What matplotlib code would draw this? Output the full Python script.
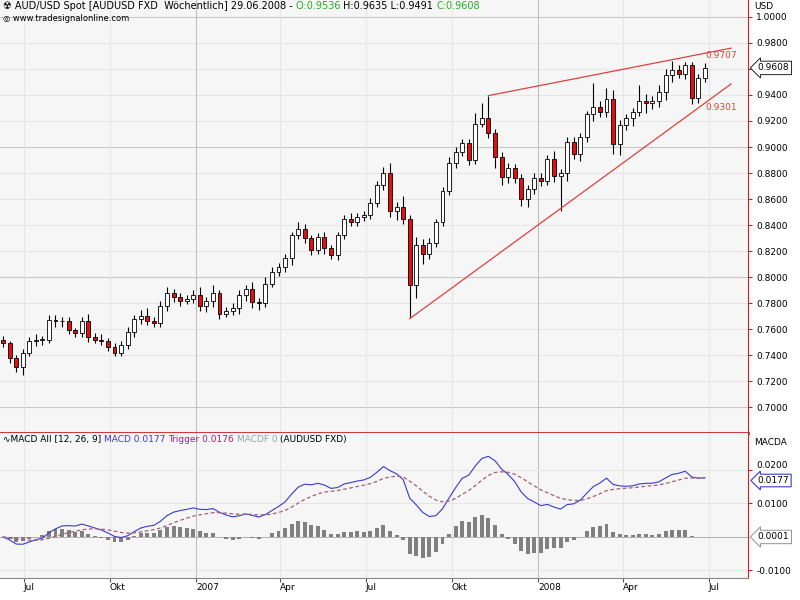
import matplotlib
matplotlib.use("Agg")
import matplotlib.pyplot as plt
import matplotlib.dates as mdates
import numpy as np
import datetime as dt

start_date = dt.date(2006, 6, 9)
closes = [0.749,0.738,0.731,0.742,0.751,0.752,0.752,0.767,0.766,0.766,
          0.759,0.757,0.766,0.754,0.752,0.751,0.746,0.742,0.748,0.758,
          0.768,0.770,0.766,0.765,0.778,0.788,0.785,0.782,0.783,0.786,
          0.778,0.782,0.788,0.772,0.774,0.776,0.786,0.791,0.781,0.780,
          0.795,0.804,0.808,0.815,0.832,0.837,0.830,0.821,0.831,0.822,
          0.817,0.832,0.845,0.842,0.846,0.848,0.857,0.871,0.880,0.851,
          0.854,0.845,0.794,0.825,0.818,0.826,0.842,0.866,0.888,0.896,
          0.903,0.890,0.918,0.922,0.911,0.892,0.877,0.884,0.876,0.860,
          0.868,0.876,0.874,0.891,0.878,0.880,0.904,0.895,0.908,0.925,
          0.931,0.927,0.937,0.902,0.917,0.922,0.927,0.935,0.934,0.935,
          0.942,0.955,0.959,0.956,0.963,0.938,0.953,0.9608]
first_open = 0.752
# wick lengths in 1/1000
up_wick = [3,2,2,3,3,4,3,4,4,3, 3,2,3,6,3,4,2,3,3,4, 3,5,6,3,4,4,3,3,3,4,
           6,3,6,2,3,4,4,3,5,3, 5,4,3,3,3,5,4,2,3,4, 3,3,3,4,3,3,4,3,5,8,
           4,8,3,6,4,4,3,3,4,4, 3,3,8,12,17,3,4,4,3,3, 3,4,4,3,6,3,4,4,3,3,
           18,4,8,7,4,3,3,13,6,4, 6,5,7,4,2,2,3,4]
dn_wick = [3,4,4,6,3,4,4,3,4,4, 3,3,3,4,3,3,3,3,3,3, 4,4,3,3,3,4,4,4,3,3,
           4,5,5,4,3,3,4,4,5,5, 3,3,3,4,6,3,4,4,3,4, 3,4,3,3,3,3,3,3,4,5,
           7,4,25,10,8,4,3,3,3,4, 3,4,3,3,4,8,6,5,4,5, 6,4,4,3,5,27,6,4,6,4,
           5,4,4,7,8,4,6,3,8,5, 4,6,5,3,4,5,4,3]

series_blue = "#3a3ad0"
trig_col = "#a0607a"

n = len(closes)
opens = [first_open] + closes[:-1]
highs = [max(o, c) + u / 1000 for o, c, u in zip(opens, closes, up_wick)]
lows = [min(o, c) - d / 1000 for o, c, d in zip(opens, closes, dn_wick)]
dates = [start_date + dt.timedelta(days=7 * i) for i in range(n)]
x = mdates.date2num(dates)

# MACD (12, 26, 9)
def ema(v, span):
    a = 2 / (span + 1)
    out = [v[0]]
    for val in v[1:]:
        out.append(out[-1] + a * (val - out[-1]))
    return np.array(out)
c = np.array(closes)
macd = ema(c, 12) - ema(c, 26)
trig = ema(macd, 9)
hist = macd - trig

fig = plt.figure(figsize=(8, 6), dpi=100)
fig.patch.set_facecolor("white")
ax = fig.add_axes([0, 0.278, 0.935, 0.722])
ax2 = fig.add_axes([0, 0.037, 0.935, 0.241], sharex=ax)
bg = "#f6f6f6"
for a in (ax, ax2):
    a.set_facecolor(bg)
    for s in ("top", "left"):
        a.spines[s].set_visible(False)
    a.spines["right"].set_color("#d02020")
    a.yaxis.tick_right()
    a.tick_params(axis="y", colors="#d02020", labelcolor="black", labelsize=6.5, length=3, pad=3)
ax.spines["bottom"].set_color("#d02020")
ax.spines["bottom"].set_linewidth(2)
ax2.spines["bottom"].set_color("#888888")

xl = (x[0] - 3.2, x[0] + 795)
ax.set_xlim(*xl)
ax.set_ylim(0.68, 1.013)
ax2.set_ylim(-0.0122, 0.031)

# grid
yt = np.round(np.arange(0.70, 1.001, 0.02), 2)
ax.set_yticks(yt)
ax.set_yticklabels(["" if abs(v - 0.96) < 1e-6 else f"{v:.4f}" for v in yt])
for v in yt:
    dark = abs(v - 0.8) < 1e-6 or abs(v - 0.9) < 1e-6 or abs(v - 0.7) < 1e-6 or abs(v - 1.0) < 1e-6
    ax.axhline(v, color="#c8c8c8" if dark else "#e6e6e6", lw=0.8, zorder=0)
month_ticks = [dt.date(2006, 7, 1), dt.date(2006, 10, 1), dt.date(2007, 1, 1), dt.date(2007, 4, 1),
               dt.date(2007, 7, 1), dt.date(2007, 10, 1), dt.date(2008, 1, 1), dt.date(2008, 4, 1),
               dt.date(2008, 7, 1)]
month_labels = ["Jul", "Okt", "2007", "Apr", "Jul", "Okt", "2008", "Apr", "Jul"]
for d in month_ticks:
    xv = mdates.date2num(d)
    col = "#c0c0c0" if d.month == 1 else "#e6e6e6"
    ax.axvline(xv, color=col, lw=0.8, zorder=0)
    ax2.axvline(xv, color=col, lw=0.8, zorder=0)

# candles
w = 4.2
for xi, o, h, l, cl in zip(x, opens, highs, lows, closes):
    ax.vlines(xi, l, h, color="black", lw=0.8, zorder=2)
    fc = "white" if cl >= o else "#e01010"
    body = max(abs(cl - o), 0.0006)
    ax.add_patch(plt.Rectangle((xi - w / 2, min(o, cl)), w, body, facecolor=fc,
                               edgecolor="black", lw=0.6, zorder=3))

# triangle lines
tri_up_x = [dates[73] + dt.timedelta(days=7), dt.date(2008, 7, 25)]
tri_up_y = [0.9395, 0.976]
tri_lo_x = [dates[62], dt.date(2008, 7, 25)]
tri_lo_y = [0.768, 0.9485]
ax.plot(mdates.date2num(tri_up_x), tri_up_y, color="#e04040", lw=0.9, zorder=4)
ax.plot(mdates.date2num(tri_lo_x), tri_lo_y, color="#e04040", lw=0.9, zorder=4)
ax.text(mdates.date2num(dt.date(2008, 6, 27)), 0.9700, "0.9707", color="#e04040", fontsize=6.5, va="center")
ax.text(mdates.date2num(dt.date(2008, 6, 27)), 0.9301, "0.9301", color="#e04040", fontsize=6.5, va="center")

# price box
ax.annotate(f"{closes[-1]:.4f}", xy=(1.0, closes[-1]), xycoords=("axes fraction", "data"),
            xytext=(7, 0), textcoords="offset points", fontsize=6.5, va="center", annotation_clip=False,
            bbox=dict(boxstyle="larrow,pad=0.25", fc="white", ec="black", lw=0.6))
ax.text(1.008, 0.995, "USD", transform=ax.transAxes, fontsize=6.5, va="top")

# header
def colored_line(axis, x0, y0, parts, size=7):
    t = axis.text(x0, y0, parts[0][0], color=parts[0][1], transform=axis.transAxes, fontsize=size, va="top")
    for s, col in parts[1:]:
        t = axis.annotate(s, xy=(1, 0), xycoords=t, va="bottom", color=col, fontsize=size)
    return t
colored_line(ax, 0.004, 0.998, [("\u2622 AUD/USD Spot [AUDUSD FXD  Wöchentlich] 29.06.2008 - ", "black"),
                                ("O:0.9536 ", "#20b020"), ("H:0.9635 L:0.9491 ", "black"),
                                ("C:0.9608", "#20b020")])
ax.text(0.004, 0.968, "\u25ce www.tradesignalonline.com", transform=ax.transAxes, fontsize=6, va="top")
plt.setp(ax.get_xticklabels(), visible=False)
ax.tick_params(axis="x", length=0)

# MACD panel
ax2.bar(x, hist, width=4.2, color="#808080", zorder=2)
ax2.plot(x, macd, color=series_blue, lw=0.8, zorder=3)
ax2.plot(x, trig, color=trig_col, lw=0.9, ls=(0, (3, 2)), zorder=3)
ax2.axhline(0, color="#b0b0b0", lw=0.7, zorder=1)
for v in (-0.01, 0.01, 0.02):
    ax2.axhline(v, color="#e6e6e6", lw=0.8, zorder=0)
ax2.set_yticks([-0.01, 0.01, 0.02])
ax2.set_yticklabels(["-0.0100", "0.0100", "0.0200"])
ax2.yaxis.get_major_ticks()[2].label2.set_va("bottom")
ax2.annotate("0.0177", xy=(1.0, 0.0177), xycoords=("axes fraction", "data"), xytext=(7, -2),
             textcoords="offset points", fontsize=6.5, va="center", annotation_clip=False,
             bbox=dict(boxstyle="larrow,pad=0.2", fc="white", ec=series_blue, lw=0.8))
ax2.annotate("0.0001", xy=(1.0, 0.0), xycoords=("axes fraction", "data"), xytext=(7, 0),
             textcoords="offset points", fontsize=6.5, va="center", annotation_clip=False,
             bbox=dict(boxstyle="larrow,pad=0.25", fc="white", ec="#808080", lw=0.6))
ax2.text(1.008, 0.97, "MACDA", transform=ax2.transAxes, fontsize=6.5, va="top")
colored_line(ax2, 0.004, 0.985, [("\u223fMACD All [12, 26, 9] ", "black"), ("MACD 0.0177 ", series_blue),
                                 ("Trigger 0.0176 ", "#a02080"), ("MACDF 0 ", "#a0a0a0"),
                                 ("(AUDUSD FXD)", "black")], size=6.5)
ax2.set_xticks(mdates.date2num(month_ticks))
ax2.set_xticklabels(month_labels)
ax2.tick_params(axis="x", labelsize=6.5, length=3, pad=1, colors="#555555", labelcolor="black")
for lbl in ax2.get_xticklabels():
    lbl.set_horizontalalignment("left")

fig.savefig("out.png", dpi=100)
